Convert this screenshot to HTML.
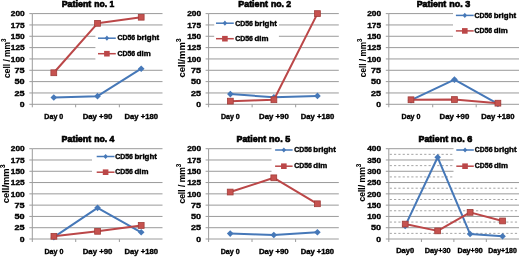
<!DOCTYPE html>
<html><head><meta charset="utf-8"><style>
html,body{margin:0;padding:0;background:#fff;width:520px;height:257px;overflow:hidden}
svg{display:block;filter:blur(0.5px)}
text{font-family:"Liberation Sans",sans-serif;font-weight:bold;fill:#000;stroke:#000;stroke-width:0.35px}
</style></head><body>
<svg width="520" height="257" viewBox="0 0 520 257">
<rect width="520" height="257" fill="#fff"/>
<line x1="32.30" y1="92.96" x2="162.50" y2="92.96" stroke="#9a9a9a" stroke-width="1" />
<line x1="32.30" y1="81.62" x2="162.50" y2="81.62" stroke="#9a9a9a" stroke-width="1" />
<line x1="32.30" y1="70.29" x2="162.50" y2="70.29" stroke="#9a9a9a" stroke-width="1" />
<line x1="32.30" y1="58.95" x2="162.50" y2="58.95" stroke="#9a9a9a" stroke-width="1" />
<line x1="32.30" y1="47.61" x2="162.50" y2="47.61" stroke="#9a9a9a" stroke-width="1" />
<line x1="32.30" y1="36.27" x2="162.50" y2="36.27" stroke="#9a9a9a" stroke-width="1" />
<line x1="32.30" y1="24.94" x2="162.50" y2="24.94" stroke="#9a9a9a" stroke-width="1" />
<line x1="32.30" y1="13.60" x2="162.50" y2="13.60" stroke="#9a9a9a" stroke-width="1" />
<rect x="95.4" y="30" width="74.6" height="34" fill="#fff"/>
<line x1="32.30" y1="13.60" x2="32.30" y2="107.30" stroke="#9c9c9c" stroke-width="1" />
<line x1="29.30" y1="104.30" x2="162.50" y2="104.30" stroke="#9c9c9c" stroke-width="1" />
<line x1="29.30" y1="92.96" x2="32.30" y2="92.96" stroke="#9c9c9c" stroke-width="1" />
<line x1="29.30" y1="81.62" x2="32.30" y2="81.62" stroke="#9c9c9c" stroke-width="1" />
<line x1="29.30" y1="70.29" x2="32.30" y2="70.29" stroke="#9c9c9c" stroke-width="1" />
<line x1="29.30" y1="58.95" x2="32.30" y2="58.95" stroke="#9c9c9c" stroke-width="1" />
<line x1="29.30" y1="47.61" x2="32.30" y2="47.61" stroke="#9c9c9c" stroke-width="1" />
<line x1="29.30" y1="36.27" x2="32.30" y2="36.27" stroke="#9c9c9c" stroke-width="1" />
<line x1="29.30" y1="24.94" x2="32.30" y2="24.94" stroke="#9c9c9c" stroke-width="1" />
<line x1="29.30" y1="13.60" x2="32.30" y2="13.60" stroke="#9c9c9c" stroke-width="1" />
<line x1="75.65" y1="104.30" x2="75.65" y2="107.30" stroke="#9c9c9c" stroke-width="1" />
<line x1="119.35" y1="104.30" x2="119.35" y2="107.30" stroke="#9c9c9c" stroke-width="1" />
<text x="24.65" y="107.05" font-size="7.5" text-anchor="end" textLength="4.80" lengthAdjust="spacingAndGlyphs" >0</text>
<text x="24.65" y="95.71" font-size="7.5" text-anchor="end" textLength="10.10" lengthAdjust="spacingAndGlyphs" >25</text>
<text x="24.65" y="84.38" font-size="7.5" text-anchor="end" textLength="10.10" lengthAdjust="spacingAndGlyphs" >50</text>
<text x="24.65" y="73.04" font-size="7.5" text-anchor="end" textLength="10.10" lengthAdjust="spacingAndGlyphs" >75</text>
<text x="24.65" y="61.70" font-size="7.5" text-anchor="end" textLength="13.90" lengthAdjust="spacingAndGlyphs" >100</text>
<text x="24.65" y="50.36" font-size="7.5" text-anchor="end" textLength="13.90" lengthAdjust="spacingAndGlyphs" >125</text>
<text x="24.65" y="39.02" font-size="7.5" text-anchor="end" textLength="13.90" lengthAdjust="spacingAndGlyphs" >150</text>
<text x="24.65" y="27.69" font-size="7.5" text-anchor="end" textLength="13.90" lengthAdjust="spacingAndGlyphs" >175</text>
<text x="24.65" y="16.35" font-size="7.5" text-anchor="end" textLength="13.90" lengthAdjust="spacingAndGlyphs" >200</text>
<text x="53.80" y="118.70" font-size="6.8" text-anchor="middle" textLength="18.90" lengthAdjust="spacingAndGlyphs" >Day 0</text>
<text x="97.50" y="118.70" font-size="6.8" text-anchor="middle" textLength="29.70" lengthAdjust="spacingAndGlyphs" >Day +90</text>
<text x="141.20" y="118.70" font-size="6.8" text-anchor="middle" textLength="33.40" lengthAdjust="spacingAndGlyphs" >Day +180</text>
<polyline points="53.80,97.50 97.50,96.14 141.20,68.70" fill="none" stroke="#4678b8" stroke-width="2" stroke-linejoin="round"/>
<path d="M50.50,97.50L53.80,94.20L57.10,97.50L53.80,100.80Z" fill="#4678b8"/>
<path d="M94.20,96.14L97.50,92.84L100.80,96.14L97.50,99.44Z" fill="#4678b8"/>
<path d="M137.90,68.70L141.20,65.40L144.50,68.70L141.20,72.00Z" fill="#4678b8"/>
<polyline points="53.80,72.78 97.50,23.35 141.20,17.23" fill="none" stroke="#bb4748" stroke-width="2" stroke-linejoin="round"/>
<rect x="50.90" y="69.88" width="5.80" height="5.80" fill="#c6524f" stroke="#a03c39" stroke-width="0.8"/>
<rect x="94.60" y="20.45" width="5.80" height="5.80" fill="#c6524f" stroke="#a03c39" stroke-width="0.8"/>
<rect x="138.30" y="14.33" width="5.80" height="5.80" fill="#c6524f" stroke="#a03c39" stroke-width="0.8"/>
<text x="61.70" y="7.20" font-size="9.4" text-anchor="start" textLength="29.60" lengthAdjust="spacingAndGlyphs" style="stroke-width:0.7px">Patient</text>
<text x="94.30" y="7.20" font-size="9.4" text-anchor="start" textLength="19.90" lengthAdjust="spacingAndGlyphs" style="stroke-width:0.7px">no. 1</text>
<line x1="98.00" y1="38.20" x2="115.80" y2="38.20" stroke="#4678b8" stroke-width="1.5" />
<path d="M104.70,38.20L106.90,35.60L109.10,38.20L106.90,40.80Z" fill="#4678b8"/>
<line x1="98.00" y1="53.70" x2="115.80" y2="53.70" stroke="#bb4748" stroke-width="1.5" />
<rect x="104.10" y="50.90" width="5.60" height="5.60" fill="#bb4748"/>
<text x="117.45" y="40.30" font-size="6.5" text-anchor="start" textLength="17.70" lengthAdjust="spacingAndGlyphs" >CD56</text>
<text x="136.65" y="40.30" font-size="7" text-anchor="start" textLength="22.50" lengthAdjust="spacingAndGlyphs" >bright</text>
<text x="117.45" y="55.80" font-size="6.5" text-anchor="start" textLength="17.70" lengthAdjust="spacingAndGlyphs" >CD56</text>
<text x="136.65" y="55.80" font-size="7" text-anchor="start" textLength="14.00" lengthAdjust="spacingAndGlyphs" >dim</text>
<text transform="translate(9.80,58.20) rotate(-90)" font-size="9.5" style="stroke-width:0.1px" text-anchor="middle" textLength="39.40" lengthAdjust="spacingAndGlyphs">cell / mm<tspan font-size="7" dy="-3.6">3</tspan></text>
<line x1="208.60" y1="92.96" x2="338.80" y2="92.96" stroke="#9a9a9a" stroke-width="1" />
<line x1="208.60" y1="81.62" x2="338.80" y2="81.62" stroke="#9a9a9a" stroke-width="1" />
<line x1="208.60" y1="70.29" x2="338.80" y2="70.29" stroke="#9a9a9a" stroke-width="1" />
<line x1="208.60" y1="58.95" x2="338.80" y2="58.95" stroke="#9a9a9a" stroke-width="1" />
<line x1="208.60" y1="47.61" x2="338.80" y2="47.61" stroke="#9a9a9a" stroke-width="1" />
<line x1="208.60" y1="36.27" x2="338.80" y2="36.27" stroke="#9a9a9a" stroke-width="1" />
<line x1="208.60" y1="24.94" x2="338.80" y2="24.94" stroke="#9a9a9a" stroke-width="1" />
<line x1="208.60" y1="13.60" x2="338.80" y2="13.60" stroke="#9a9a9a" stroke-width="1" />
<rect x="214.2" y="17" width="64.69999999999999" height="28" fill="#fff"/>
<line x1="208.60" y1="13.60" x2="208.60" y2="107.30" stroke="#9c9c9c" stroke-width="1" />
<line x1="205.60" y1="104.30" x2="338.80" y2="104.30" stroke="#9c9c9c" stroke-width="1" />
<line x1="205.60" y1="92.96" x2="208.60" y2="92.96" stroke="#9c9c9c" stroke-width="1" />
<line x1="205.60" y1="81.62" x2="208.60" y2="81.62" stroke="#9c9c9c" stroke-width="1" />
<line x1="205.60" y1="70.29" x2="208.60" y2="70.29" stroke="#9c9c9c" stroke-width="1" />
<line x1="205.60" y1="58.95" x2="208.60" y2="58.95" stroke="#9c9c9c" stroke-width="1" />
<line x1="205.60" y1="47.61" x2="208.60" y2="47.61" stroke="#9c9c9c" stroke-width="1" />
<line x1="205.60" y1="36.27" x2="208.60" y2="36.27" stroke="#9c9c9c" stroke-width="1" />
<line x1="205.60" y1="24.94" x2="208.60" y2="24.94" stroke="#9c9c9c" stroke-width="1" />
<line x1="205.60" y1="13.60" x2="208.60" y2="13.60" stroke="#9c9c9c" stroke-width="1" />
<line x1="252.12" y1="104.30" x2="252.12" y2="107.30" stroke="#9c9c9c" stroke-width="1" />
<line x1="295.67" y1="104.30" x2="295.67" y2="107.30" stroke="#9c9c9c" stroke-width="1" />
<text x="201.05" y="107.05" font-size="7.5" text-anchor="end" textLength="4.80" lengthAdjust="spacingAndGlyphs" >0</text>
<text x="201.05" y="95.71" font-size="7.5" text-anchor="end" textLength="10.10" lengthAdjust="spacingAndGlyphs" >25</text>
<text x="201.05" y="84.38" font-size="7.5" text-anchor="end" textLength="10.10" lengthAdjust="spacingAndGlyphs" >50</text>
<text x="201.05" y="73.04" font-size="7.5" text-anchor="end" textLength="10.10" lengthAdjust="spacingAndGlyphs" >75</text>
<text x="201.05" y="61.70" font-size="7.5" text-anchor="end" textLength="13.90" lengthAdjust="spacingAndGlyphs" >100</text>
<text x="201.05" y="50.36" font-size="7.5" text-anchor="end" textLength="13.90" lengthAdjust="spacingAndGlyphs" >125</text>
<text x="201.05" y="39.02" font-size="7.5" text-anchor="end" textLength="13.90" lengthAdjust="spacingAndGlyphs" >150</text>
<text x="201.05" y="27.69" font-size="7.5" text-anchor="end" textLength="13.90" lengthAdjust="spacingAndGlyphs" >175</text>
<text x="201.05" y="16.35" font-size="7.5" text-anchor="end" textLength="13.90" lengthAdjust="spacingAndGlyphs" >200</text>
<text x="230.35" y="118.70" font-size="6.8" text-anchor="middle" textLength="18.90" lengthAdjust="spacingAndGlyphs" >Day 0</text>
<text x="273.90" y="118.70" font-size="6.8" text-anchor="middle" textLength="29.70" lengthAdjust="spacingAndGlyphs" >Day +90</text>
<text x="317.45" y="118.70" font-size="6.8" text-anchor="middle" textLength="33.40" lengthAdjust="spacingAndGlyphs" >Day +180</text>
<polyline points="230.35,94.10 273.90,97.27 317.45,95.91" fill="none" stroke="#4678b8" stroke-width="2" stroke-linejoin="round"/>
<path d="M227.05,94.10L230.35,90.80L233.65,94.10L230.35,97.40Z" fill="#4678b8"/>
<path d="M270.60,97.27L273.90,93.97L277.20,97.27L273.90,100.57Z" fill="#4678b8"/>
<path d="M314.15,95.91L317.45,92.61L320.75,95.91L317.45,99.21Z" fill="#4678b8"/>
<polyline points="230.35,101.13 273.90,99.77 317.45,13.60" fill="none" stroke="#bb4748" stroke-width="2" stroke-linejoin="round"/>
<rect x="227.45" y="98.23" width="5.80" height="5.80" fill="#c6524f" stroke="#a03c39" stroke-width="0.8"/>
<rect x="271.00" y="96.86" width="5.80" height="5.80" fill="#c6524f" stroke="#a03c39" stroke-width="0.8"/>
<rect x="314.55" y="10.70" width="5.80" height="5.80" fill="#c6524f" stroke="#a03c39" stroke-width="0.8"/>
<text x="238.30" y="7.20" font-size="9.4" text-anchor="start" textLength="29.60" lengthAdjust="spacingAndGlyphs" style="stroke-width:0.7px">Patient</text>
<text x="270.90" y="7.20" font-size="9.4" text-anchor="start" textLength="20.30" lengthAdjust="spacingAndGlyphs" style="stroke-width:0.7px">no. 2</text>
<line x1="216.00" y1="23.20" x2="233.80" y2="23.20" stroke="#4678b8" stroke-width="1.5" />
<path d="M222.70,23.20L224.90,20.60L227.10,23.20L224.90,25.80Z" fill="#4678b8"/>
<line x1="216.00" y1="38.70" x2="233.80" y2="38.70" stroke="#bb4748" stroke-width="1.5" />
<rect x="222.10" y="35.90" width="5.60" height="5.60" fill="#bb4748"/>
<text x="235.25" y="25.70" font-size="6.5" text-anchor="start" textLength="17.70" lengthAdjust="spacingAndGlyphs" >CD56</text>
<text x="254.45" y="25.70" font-size="7" text-anchor="start" textLength="22.50" lengthAdjust="spacingAndGlyphs" >bright</text>
<text x="235.25" y="41.20" font-size="6.5" text-anchor="start" textLength="17.70" lengthAdjust="spacingAndGlyphs" >CD56</text>
<text x="254.45" y="41.20" font-size="7" text-anchor="start" textLength="14.00" lengthAdjust="spacingAndGlyphs" >dim</text>
<text transform="translate(185.00,57.85) rotate(-90)" font-size="9.5" style="stroke-width:0.1px" text-anchor="middle" textLength="39.10" lengthAdjust="spacingAndGlyphs">cell/mm<tspan font-size="7" dy="-3.6">3</tspan></text>
<line x1="388.80" y1="92.96" x2="519.00" y2="92.96" stroke="#9a9a9a" stroke-width="1" />
<line x1="388.80" y1="81.62" x2="519.00" y2="81.62" stroke="#9a9a9a" stroke-width="1" />
<line x1="388.80" y1="70.29" x2="519.00" y2="70.29" stroke="#9a9a9a" stroke-width="1" />
<line x1="388.80" y1="58.95" x2="519.00" y2="58.95" stroke="#9a9a9a" stroke-width="1" />
<line x1="388.80" y1="47.61" x2="519.00" y2="47.61" stroke="#9a9a9a" stroke-width="1" />
<line x1="388.80" y1="36.27" x2="519.00" y2="36.27" stroke="#9a9a9a" stroke-width="1" />
<line x1="388.80" y1="24.94" x2="519.00" y2="24.94" stroke="#9a9a9a" stroke-width="1" />
<line x1="388.80" y1="13.60" x2="519.00" y2="13.60" stroke="#9a9a9a" stroke-width="1" />
<rect x="453.0" y="8" width="67.0" height="34" fill="#fff"/>
<line x1="388.80" y1="13.60" x2="388.80" y2="107.30" stroke="#9c9c9c" stroke-width="1" />
<line x1="385.80" y1="104.30" x2="519.00" y2="104.30" stroke="#9c9c9c" stroke-width="1" />
<line x1="385.80" y1="92.96" x2="388.80" y2="92.96" stroke="#9c9c9c" stroke-width="1" />
<line x1="385.80" y1="81.62" x2="388.80" y2="81.62" stroke="#9c9c9c" stroke-width="1" />
<line x1="385.80" y1="70.29" x2="388.80" y2="70.29" stroke="#9c9c9c" stroke-width="1" />
<line x1="385.80" y1="58.95" x2="388.80" y2="58.95" stroke="#9c9c9c" stroke-width="1" />
<line x1="385.80" y1="47.61" x2="388.80" y2="47.61" stroke="#9c9c9c" stroke-width="1" />
<line x1="385.80" y1="36.27" x2="388.80" y2="36.27" stroke="#9c9c9c" stroke-width="1" />
<line x1="385.80" y1="24.94" x2="388.80" y2="24.94" stroke="#9c9c9c" stroke-width="1" />
<line x1="385.80" y1="13.60" x2="388.80" y2="13.60" stroke="#9c9c9c" stroke-width="1" />
<line x1="432.73" y1="104.30" x2="432.73" y2="107.30" stroke="#9c9c9c" stroke-width="1" />
<line x1="476.18" y1="104.30" x2="476.18" y2="107.30" stroke="#9c9c9c" stroke-width="1" />
<text x="381.05" y="107.05" font-size="7.5" text-anchor="end" textLength="4.80" lengthAdjust="spacingAndGlyphs" >0</text>
<text x="381.05" y="95.71" font-size="7.5" text-anchor="end" textLength="10.10" lengthAdjust="spacingAndGlyphs" >25</text>
<text x="381.05" y="84.38" font-size="7.5" text-anchor="end" textLength="10.10" lengthAdjust="spacingAndGlyphs" >50</text>
<text x="381.05" y="73.04" font-size="7.5" text-anchor="end" textLength="10.10" lengthAdjust="spacingAndGlyphs" >75</text>
<text x="381.05" y="61.70" font-size="7.5" text-anchor="end" textLength="13.90" lengthAdjust="spacingAndGlyphs" >100</text>
<text x="381.05" y="50.36" font-size="7.5" text-anchor="end" textLength="13.90" lengthAdjust="spacingAndGlyphs" >125</text>
<text x="381.05" y="39.02" font-size="7.5" text-anchor="end" textLength="13.90" lengthAdjust="spacingAndGlyphs" >150</text>
<text x="381.05" y="27.69" font-size="7.5" text-anchor="end" textLength="13.90" lengthAdjust="spacingAndGlyphs" >175</text>
<text x="381.05" y="16.35" font-size="7.5" text-anchor="end" textLength="13.90" lengthAdjust="spacingAndGlyphs" >200</text>
<text x="411.00" y="118.70" font-size="6.8" text-anchor="middle" textLength="18.90" lengthAdjust="spacingAndGlyphs" >Day 0</text>
<text x="454.45" y="118.70" font-size="6.8" text-anchor="middle" textLength="29.70" lengthAdjust="spacingAndGlyphs" >Day +90</text>
<text x="497.90" y="118.70" font-size="6.8" text-anchor="middle" textLength="33.40" lengthAdjust="spacingAndGlyphs" >Day +180</text>
<polyline points="411.00,100.22 454.45,79.58 497.90,103.85" fill="none" stroke="#4678b8" stroke-width="2" stroke-linejoin="round"/>
<path d="M407.70,100.22L411.00,96.92L414.30,100.22L411.00,103.52Z" fill="#4678b8"/>
<path d="M451.15,79.58L454.45,76.28L457.75,79.58L454.45,82.88Z" fill="#4678b8"/>
<path d="M494.60,103.85L497.90,100.55L501.20,103.85L497.90,107.15Z" fill="#4678b8"/>
<polyline points="411.00,99.77 454.45,99.54 497.90,103.17" fill="none" stroke="#bb4748" stroke-width="2" stroke-linejoin="round"/>
<rect x="408.10" y="96.86" width="5.80" height="5.80" fill="#c6524f" stroke="#a03c39" stroke-width="0.8"/>
<rect x="451.55" y="96.64" width="5.80" height="5.80" fill="#c6524f" stroke="#a03c39" stroke-width="0.8"/>
<rect x="495.00" y="100.27" width="5.80" height="5.80" fill="#c6524f" stroke="#a03c39" stroke-width="0.8"/>
<text x="416.70" y="7.10" font-size="9.4" text-anchor="start" textLength="29.60" lengthAdjust="spacingAndGlyphs" style="stroke-width:0.7px">Patient</text>
<text x="449.30" y="7.10" font-size="9.4" text-anchor="start" textLength="21.00" lengthAdjust="spacingAndGlyphs" style="stroke-width:0.7px">no. 3</text>
<line x1="455.90" y1="15.40" x2="473.70" y2="15.40" stroke="#4678b8" stroke-width="1.5" />
<path d="M462.60,15.40L464.80,12.80L467.00,15.40L464.80,18.00Z" fill="#4678b8"/>
<line x1="455.90" y1="30.90" x2="473.70" y2="30.90" stroke="#bb4748" stroke-width="1.5" />
<rect x="462.00" y="28.10" width="5.60" height="5.60" fill="#bb4748"/>
<text x="474.45" y="17.50" font-size="6.5" text-anchor="start" textLength="17.70" lengthAdjust="spacingAndGlyphs" >CD56</text>
<text x="493.65" y="17.50" font-size="7" text-anchor="start" textLength="22.50" lengthAdjust="spacingAndGlyphs" >bright</text>
<text x="474.45" y="33.00" font-size="6.5" text-anchor="start" textLength="17.70" lengthAdjust="spacingAndGlyphs" >CD56</text>
<text x="493.65" y="33.00" font-size="7" text-anchor="start" textLength="14.00" lengthAdjust="spacingAndGlyphs" >dim</text>
<text transform="translate(366.00,57.85) rotate(-90)" font-size="9.5" style="stroke-width:0.1px" text-anchor="middle" textLength="38.70" lengthAdjust="spacingAndGlyphs">cell / mm<tspan font-size="7" dy="-3.6">3</tspan></text>
<line x1="32.30" y1="227.71" x2="162.50" y2="227.71" stroke="#9a9a9a" stroke-width="1" />
<line x1="32.30" y1="216.43" x2="162.50" y2="216.43" stroke="#9a9a9a" stroke-width="1" />
<line x1="32.30" y1="205.14" x2="162.50" y2="205.14" stroke="#9a9a9a" stroke-width="1" />
<line x1="32.30" y1="193.85" x2="162.50" y2="193.85" stroke="#9a9a9a" stroke-width="1" />
<line x1="32.30" y1="182.56" x2="162.50" y2="182.56" stroke="#9a9a9a" stroke-width="1" />
<line x1="32.30" y1="171.27" x2="162.50" y2="171.27" stroke="#9a9a9a" stroke-width="1" />
<line x1="32.30" y1="159.99" x2="162.50" y2="159.99" stroke="#9a9a9a" stroke-width="1" />
<line x1="32.30" y1="148.70" x2="162.50" y2="148.70" stroke="#9a9a9a" stroke-width="1" />
<rect x="92.0" y="151" width="78.0" height="28" fill="#fff"/>
<line x1="32.30" y1="148.70" x2="32.30" y2="242.00" stroke="#9c9c9c" stroke-width="1" />
<line x1="29.30" y1="239.00" x2="162.50" y2="239.00" stroke="#9c9c9c" stroke-width="1" />
<line x1="29.30" y1="227.71" x2="32.30" y2="227.71" stroke="#9c9c9c" stroke-width="1" />
<line x1="29.30" y1="216.43" x2="32.30" y2="216.43" stroke="#9c9c9c" stroke-width="1" />
<line x1="29.30" y1="205.14" x2="32.30" y2="205.14" stroke="#9c9c9c" stroke-width="1" />
<line x1="29.30" y1="193.85" x2="32.30" y2="193.85" stroke="#9c9c9c" stroke-width="1" />
<line x1="29.30" y1="182.56" x2="32.30" y2="182.56" stroke="#9c9c9c" stroke-width="1" />
<line x1="29.30" y1="171.27" x2="32.30" y2="171.27" stroke="#9c9c9c" stroke-width="1" />
<line x1="29.30" y1="159.99" x2="32.30" y2="159.99" stroke="#9c9c9c" stroke-width="1" />
<line x1="29.30" y1="148.70" x2="32.30" y2="148.70" stroke="#9c9c9c" stroke-width="1" />
<line x1="75.72" y1="239.00" x2="75.72" y2="242.00" stroke="#9c9c9c" stroke-width="1" />
<line x1="119.38" y1="239.00" x2="119.38" y2="242.00" stroke="#9c9c9c" stroke-width="1" />
<text x="24.65" y="241.75" font-size="7.5" text-anchor="end" textLength="4.80" lengthAdjust="spacingAndGlyphs" >0</text>
<text x="24.65" y="230.46" font-size="7.5" text-anchor="end" textLength="10.10" lengthAdjust="spacingAndGlyphs" >25</text>
<text x="24.65" y="219.18" font-size="7.5" text-anchor="end" textLength="10.10" lengthAdjust="spacingAndGlyphs" >50</text>
<text x="24.65" y="207.89" font-size="7.5" text-anchor="end" textLength="10.10" lengthAdjust="spacingAndGlyphs" >75</text>
<text x="24.65" y="196.60" font-size="7.5" text-anchor="end" textLength="13.90" lengthAdjust="spacingAndGlyphs" >100</text>
<text x="24.65" y="185.31" font-size="7.5" text-anchor="end" textLength="13.90" lengthAdjust="spacingAndGlyphs" >125</text>
<text x="24.65" y="174.02" font-size="7.5" text-anchor="end" textLength="13.90" lengthAdjust="spacingAndGlyphs" >150</text>
<text x="24.65" y="162.74" font-size="7.5" text-anchor="end" textLength="13.90" lengthAdjust="spacingAndGlyphs" >175</text>
<text x="24.65" y="151.45" font-size="7.5" text-anchor="end" textLength="13.90" lengthAdjust="spacingAndGlyphs" >200</text>
<text x="53.90" y="254.40" font-size="6.8" text-anchor="middle" textLength="18.90" lengthAdjust="spacingAndGlyphs" >Day 0</text>
<text x="97.55" y="254.40" font-size="6.8" text-anchor="middle" textLength="29.70" lengthAdjust="spacingAndGlyphs" >Day +90</text>
<text x="141.20" y="254.40" font-size="6.8" text-anchor="middle" textLength="33.40" lengthAdjust="spacingAndGlyphs" >Day +180</text>
<polyline points="53.90,237.19 97.55,207.85 141.20,232.32" fill="none" stroke="#4678b8" stroke-width="2" stroke-linejoin="round"/>
<path d="M50.60,237.19L53.90,233.89L57.20,237.19L53.90,240.49Z" fill="#4678b8"/>
<path d="M94.25,207.85L97.55,204.55L100.85,207.85L97.55,211.15Z" fill="#4678b8"/>
<path d="M137.90,232.32L141.20,229.02L144.50,232.32L141.20,235.62Z" fill="#4678b8"/>
<polyline points="53.90,236.29 97.55,231.32 141.20,225.45" fill="none" stroke="#bb4748" stroke-width="2" stroke-linejoin="round"/>
<rect x="51.00" y="233.39" width="5.80" height="5.80" fill="#c6524f" stroke="#a03c39" stroke-width="0.8"/>
<rect x="94.65" y="228.42" width="5.80" height="5.80" fill="#c6524f" stroke="#a03c39" stroke-width="0.8"/>
<rect x="138.30" y="222.55" width="5.80" height="5.80" fill="#c6524f" stroke="#a03c39" stroke-width="0.8"/>
<text x="61.60" y="141.90" font-size="9.4" text-anchor="start" textLength="29.60" lengthAdjust="spacingAndGlyphs" style="stroke-width:0.7px">Patient</text>
<text x="94.20" y="141.90" font-size="9.4" text-anchor="start" textLength="20.20" lengthAdjust="spacingAndGlyphs" style="stroke-width:0.7px">no. 4</text>
<line x1="96.70" y1="156.50" x2="114.50" y2="156.50" stroke="#4678b8" stroke-width="1.5" />
<path d="M103.40,156.50L105.60,153.90L107.80,156.50L105.60,159.10Z" fill="#4678b8"/>
<line x1="96.70" y1="172.20" x2="114.50" y2="172.20" stroke="#bb4748" stroke-width="1.5" />
<rect x="102.80" y="169.40" width="5.60" height="5.60" fill="#bb4748"/>
<text x="115.25" y="158.60" font-size="6.5" text-anchor="start" textLength="17.70" lengthAdjust="spacingAndGlyphs" >CD56</text>
<text x="134.45" y="158.60" font-size="7" text-anchor="start" textLength="22.50" lengthAdjust="spacingAndGlyphs" >bright</text>
<text x="115.25" y="174.30" font-size="6.5" text-anchor="start" textLength="17.70" lengthAdjust="spacingAndGlyphs" >CD56</text>
<text x="134.45" y="174.30" font-size="7" text-anchor="start" textLength="14.00" lengthAdjust="spacingAndGlyphs" >dim</text>
<text transform="translate(8.80,183.85) rotate(-90)" font-size="9.5" style="stroke-width:0.1px" text-anchor="middle" textLength="38.70" lengthAdjust="spacingAndGlyphs">cell/mm<tspan font-size="7" dy="-3.6">3</tspan></text>
<line x1="208.60" y1="227.71" x2="338.80" y2="227.71" stroke="#9a9a9a" stroke-width="1" />
<line x1="208.60" y1="216.43" x2="338.80" y2="216.43" stroke="#9a9a9a" stroke-width="1" />
<line x1="208.60" y1="205.14" x2="338.80" y2="205.14" stroke="#9a9a9a" stroke-width="1" />
<line x1="208.60" y1="193.85" x2="338.80" y2="193.85" stroke="#9a9a9a" stroke-width="1" />
<line x1="208.60" y1="182.56" x2="338.80" y2="182.56" stroke="#9a9a9a" stroke-width="1" />
<line x1="208.60" y1="171.27" x2="338.80" y2="171.27" stroke="#9a9a9a" stroke-width="1" />
<line x1="208.60" y1="159.99" x2="338.80" y2="159.99" stroke="#9a9a9a" stroke-width="1" />
<line x1="208.60" y1="148.70" x2="338.80" y2="148.70" stroke="#9a9a9a" stroke-width="1" />
<rect x="271.5" y="143" width="74.5" height="34" fill="#fff"/>
<line x1="208.60" y1="148.70" x2="208.60" y2="242.00" stroke="#9c9c9c" stroke-width="1" />
<line x1="205.60" y1="239.00" x2="338.80" y2="239.00" stroke="#9c9c9c" stroke-width="1" />
<line x1="205.60" y1="227.71" x2="208.60" y2="227.71" stroke="#9c9c9c" stroke-width="1" />
<line x1="205.60" y1="216.43" x2="208.60" y2="216.43" stroke="#9c9c9c" stroke-width="1" />
<line x1="205.60" y1="205.14" x2="208.60" y2="205.14" stroke="#9c9c9c" stroke-width="1" />
<line x1="205.60" y1="193.85" x2="208.60" y2="193.85" stroke="#9c9c9c" stroke-width="1" />
<line x1="205.60" y1="182.56" x2="208.60" y2="182.56" stroke="#9c9c9c" stroke-width="1" />
<line x1="205.60" y1="171.27" x2="208.60" y2="171.27" stroke="#9c9c9c" stroke-width="1" />
<line x1="205.60" y1="159.99" x2="208.60" y2="159.99" stroke="#9c9c9c" stroke-width="1" />
<line x1="205.60" y1="148.70" x2="208.60" y2="148.70" stroke="#9c9c9c" stroke-width="1" />
<line x1="252.00" y1="239.00" x2="252.00" y2="242.00" stroke="#9c9c9c" stroke-width="1" />
<line x1="295.60" y1="239.00" x2="295.60" y2="242.00" stroke="#9c9c9c" stroke-width="1" />
<text x="201.05" y="241.75" font-size="7.5" text-anchor="end" textLength="4.80" lengthAdjust="spacingAndGlyphs" >0</text>
<text x="201.05" y="230.46" font-size="7.5" text-anchor="end" textLength="10.10" lengthAdjust="spacingAndGlyphs" >25</text>
<text x="201.05" y="219.18" font-size="7.5" text-anchor="end" textLength="10.10" lengthAdjust="spacingAndGlyphs" >50</text>
<text x="201.05" y="207.89" font-size="7.5" text-anchor="end" textLength="10.10" lengthAdjust="spacingAndGlyphs" >75</text>
<text x="201.05" y="196.60" font-size="7.5" text-anchor="end" textLength="13.90" lengthAdjust="spacingAndGlyphs" >100</text>
<text x="201.05" y="185.31" font-size="7.5" text-anchor="end" textLength="13.90" lengthAdjust="spacingAndGlyphs" >125</text>
<text x="201.05" y="174.02" font-size="7.5" text-anchor="end" textLength="13.90" lengthAdjust="spacingAndGlyphs" >150</text>
<text x="201.05" y="162.74" font-size="7.5" text-anchor="end" textLength="13.90" lengthAdjust="spacingAndGlyphs" >175</text>
<text x="201.05" y="151.45" font-size="7.5" text-anchor="end" textLength="13.90" lengthAdjust="spacingAndGlyphs" >200</text>
<text x="230.20" y="254.40" font-size="6.8" text-anchor="middle" textLength="18.90" lengthAdjust="spacingAndGlyphs" >Day 0</text>
<text x="273.80" y="254.40" font-size="6.8" text-anchor="middle" textLength="29.70" lengthAdjust="spacingAndGlyphs" >Day +90</text>
<text x="317.40" y="254.40" font-size="6.8" text-anchor="middle" textLength="33.40" lengthAdjust="spacingAndGlyphs" >Day +180</text>
<polyline points="230.20,233.58 273.80,234.94 317.40,232.23" fill="none" stroke="#4678b8" stroke-width="2" stroke-linejoin="round"/>
<path d="M226.90,233.58L230.20,230.28L233.50,233.58L230.20,236.88Z" fill="#4678b8"/>
<path d="M270.50,234.94L273.80,231.64L277.10,234.94L273.80,238.24Z" fill="#4678b8"/>
<path d="M314.10,232.23L317.40,228.93L320.70,232.23L317.40,235.53Z" fill="#4678b8"/>
<polyline points="230.20,192.04 273.80,177.82 317.40,203.78" fill="none" stroke="#bb4748" stroke-width="2" stroke-linejoin="round"/>
<rect x="227.30" y="189.14" width="5.80" height="5.80" fill="#c6524f" stroke="#a03c39" stroke-width="0.8"/>
<rect x="270.90" y="174.92" width="5.80" height="5.80" fill="#c6524f" stroke="#a03c39" stroke-width="0.8"/>
<rect x="314.50" y="200.88" width="5.80" height="5.80" fill="#c6524f" stroke="#a03c39" stroke-width="0.8"/>
<text x="236.50" y="141.90" font-size="9.4" text-anchor="start" textLength="29.60" lengthAdjust="spacingAndGlyphs" style="stroke-width:0.7px">Patient</text>
<text x="269.10" y="141.90" font-size="9.4" text-anchor="start" textLength="21.10" lengthAdjust="spacingAndGlyphs" style="stroke-width:0.7px">no. 5</text>
<line x1="275.10" y1="150.00" x2="292.60" y2="150.00" stroke="#4678b8" stroke-width="1.5" />
<path d="M281.65,150.00L283.85,147.40L286.05,150.00L283.85,152.60Z" fill="#4678b8"/>
<line x1="275.10" y1="166.20" x2="292.60" y2="166.20" stroke="#bb4748" stroke-width="1.5" />
<rect x="281.05" y="163.40" width="5.60" height="5.60" fill="#bb4748"/>
<text x="294.15" y="152.10" font-size="6.5" text-anchor="start" textLength="17.70" lengthAdjust="spacingAndGlyphs" >CD56</text>
<text x="313.35" y="152.10" font-size="7" text-anchor="start" textLength="22.50" lengthAdjust="spacingAndGlyphs" >bright</text>
<text x="294.15" y="168.30" font-size="6.5" text-anchor="start" textLength="17.70" lengthAdjust="spacingAndGlyphs" >CD56</text>
<text x="313.35" y="168.30" font-size="7" text-anchor="start" textLength="14.00" lengthAdjust="spacingAndGlyphs" >dim</text>
<text transform="translate(185.00,183.65) rotate(-90)" font-size="9.5" style="stroke-width:0.1px" text-anchor="middle" textLength="39.90" lengthAdjust="spacingAndGlyphs">cell / mm<tspan font-size="7" dy="-3.6">3</tspan></text>
<line x1="388.80" y1="233.36" x2="519.00" y2="233.36" stroke="#a4a4a4" stroke-width="1" stroke-dasharray="2.2,2.116" stroke-dashoffset="3.416"/>
<line x1="388.80" y1="222.07" x2="519.00" y2="222.07" stroke="#a4a4a4" stroke-width="1" stroke-dasharray="2.2,2.116" stroke-dashoffset="3.416"/>
<line x1="388.80" y1="210.78" x2="519.00" y2="210.78" stroke="#a4a4a4" stroke-width="1" stroke-dasharray="2.2,2.116" stroke-dashoffset="3.416"/>
<line x1="388.80" y1="199.49" x2="519.00" y2="199.49" stroke="#a4a4a4" stroke-width="1" stroke-dasharray="2.2,2.116" stroke-dashoffset="3.416"/>
<line x1="388.80" y1="188.21" x2="519.00" y2="188.21" stroke="#a4a4a4" stroke-width="1" stroke-dasharray="2.2,2.116" stroke-dashoffset="3.416"/>
<line x1="388.80" y1="176.92" x2="519.00" y2="176.92" stroke="#a4a4a4" stroke-width="1" stroke-dasharray="2.2,2.116" stroke-dashoffset="3.416"/>
<line x1="388.80" y1="165.63" x2="519.00" y2="165.63" stroke="#a4a4a4" stroke-width="1" stroke-dasharray="2.2,2.116" stroke-dashoffset="3.416"/>
<line x1="388.80" y1="154.34" x2="519.00" y2="154.34" stroke="#a4a4a4" stroke-width="1" stroke-dasharray="2.2,2.116" stroke-dashoffset="3.416"/>
<line x1="388.80" y1="227.71" x2="519.00" y2="227.71" stroke="#9a9a9a" stroke-width="1" />
<line x1="388.80" y1="216.43" x2="519.00" y2="216.43" stroke="#9a9a9a" stroke-width="1" />
<line x1="388.80" y1="205.14" x2="519.00" y2="205.14" stroke="#9a9a9a" stroke-width="1" />
<line x1="388.80" y1="193.85" x2="519.00" y2="193.85" stroke="#9a9a9a" stroke-width="1" />
<line x1="388.80" y1="182.56" x2="519.00" y2="182.56" stroke="#9a9a9a" stroke-width="1" />
<line x1="388.80" y1="171.27" x2="519.00" y2="171.27" stroke="#9a9a9a" stroke-width="1" />
<line x1="388.80" y1="159.99" x2="519.00" y2="159.99" stroke="#9a9a9a" stroke-width="1" />
<line x1="388.80" y1="148.70" x2="519.00" y2="148.70" stroke="#9a9a9a" stroke-width="1" />
<rect x="453.5" y="143" width="66.5" height="36" fill="#fff"/>
<line x1="388.80" y1="148.70" x2="388.80" y2="242.00" stroke="#9c9c9c" stroke-width="1" />
<line x1="385.80" y1="239.00" x2="519.00" y2="239.00" stroke="#9c9c9c" stroke-width="1" />
<line x1="385.80" y1="227.71" x2="388.80" y2="227.71" stroke="#9c9c9c" stroke-width="1" />
<line x1="385.80" y1="216.43" x2="388.80" y2="216.43" stroke="#9c9c9c" stroke-width="1" />
<line x1="385.80" y1="205.14" x2="388.80" y2="205.14" stroke="#9c9c9c" stroke-width="1" />
<line x1="385.80" y1="193.85" x2="388.80" y2="193.85" stroke="#9c9c9c" stroke-width="1" />
<line x1="385.80" y1="182.56" x2="388.80" y2="182.56" stroke="#9c9c9c" stroke-width="1" />
<line x1="385.80" y1="171.27" x2="388.80" y2="171.27" stroke="#9c9c9c" stroke-width="1" />
<line x1="385.80" y1="159.99" x2="388.80" y2="159.99" stroke="#9c9c9c" stroke-width="1" />
<line x1="385.80" y1="148.70" x2="388.80" y2="148.70" stroke="#9c9c9c" stroke-width="1" />
<line x1="421.43" y1="239.00" x2="421.43" y2="242.00" stroke="#9c9c9c" stroke-width="1" />
<line x1="453.88" y1="239.00" x2="453.88" y2="242.00" stroke="#9c9c9c" stroke-width="1" />
<line x1="486.32" y1="239.00" x2="486.32" y2="242.00" stroke="#9c9c9c" stroke-width="1" />
<text x="381.05" y="241.75" font-size="7.5" text-anchor="end" textLength="4.80" lengthAdjust="spacingAndGlyphs" >0</text>
<text x="381.05" y="230.46" font-size="7.5" text-anchor="end" textLength="10.10" lengthAdjust="spacingAndGlyphs" >50</text>
<text x="381.05" y="219.18" font-size="7.5" text-anchor="end" textLength="13.90" lengthAdjust="spacingAndGlyphs" >100</text>
<text x="381.05" y="207.89" font-size="7.5" text-anchor="end" textLength="13.90" lengthAdjust="spacingAndGlyphs" >150</text>
<text x="381.05" y="196.60" font-size="7.5" text-anchor="end" textLength="13.90" lengthAdjust="spacingAndGlyphs" >200</text>
<text x="381.05" y="185.31" font-size="7.5" text-anchor="end" textLength="13.90" lengthAdjust="spacingAndGlyphs" >250</text>
<text x="381.05" y="174.02" font-size="7.5" text-anchor="end" textLength="13.90" lengthAdjust="spacingAndGlyphs" >300</text>
<text x="381.05" y="162.74" font-size="7.5" text-anchor="end" textLength="13.90" lengthAdjust="spacingAndGlyphs" >350</text>
<text x="381.05" y="151.45" font-size="7.5" text-anchor="end" textLength="13.90" lengthAdjust="spacingAndGlyphs" >400</text>
<text x="405.20" y="253.00" font-size="6.8" text-anchor="middle" textLength="18.00" lengthAdjust="spacingAndGlyphs" >Day0</text>
<text x="437.65" y="253.00" font-size="6.8" text-anchor="middle" textLength="26.00" lengthAdjust="spacingAndGlyphs" >Day+30</text>
<text x="470.10" y="253.00" font-size="6.8" text-anchor="middle" textLength="25.20" lengthAdjust="spacingAndGlyphs" >Day+90</text>
<text x="502.55" y="253.00" font-size="6.8" text-anchor="middle" textLength="28.40" lengthAdjust="spacingAndGlyphs" >Day+180</text>
<polyline points="405.20,225.91 437.65,157.28 470.10,234.03 502.55,236.29" fill="none" stroke="#4678b8" stroke-width="2" stroke-linejoin="round"/>
<path d="M401.90,225.91L405.20,222.61L408.50,225.91L405.20,229.21Z" fill="#4678b8"/>
<path d="M434.35,157.28L437.65,153.98L440.95,157.28L437.65,160.58Z" fill="#4678b8"/>
<path d="M466.80,234.03L470.10,230.73L473.40,234.03L470.10,237.33Z" fill="#4678b8"/>
<path d="M499.25,236.29L502.55,232.99L505.85,236.29L502.55,239.59Z" fill="#4678b8"/>
<polyline points="405.20,224.10 437.65,230.87 470.10,212.36 502.55,220.94" fill="none" stroke="#bb4748" stroke-width="2" stroke-linejoin="round"/>
<rect x="402.30" y="221.20" width="5.80" height="5.80" fill="#c6524f" stroke="#a03c39" stroke-width="0.8"/>
<rect x="434.75" y="227.97" width="5.80" height="5.80" fill="#c6524f" stroke="#a03c39" stroke-width="0.8"/>
<rect x="467.20" y="209.46" width="5.80" height="5.80" fill="#c6524f" stroke="#a03c39" stroke-width="0.8"/>
<rect x="499.65" y="218.04" width="5.80" height="5.80" fill="#c6524f" stroke="#a03c39" stroke-width="0.8"/>
<text x="418.50" y="141.90" font-size="9.4" text-anchor="start" textLength="29.60" lengthAdjust="spacingAndGlyphs" style="stroke-width:0.7px">Patient</text>
<text x="451.10" y="141.90" font-size="9.4" text-anchor="start" textLength="21.20" lengthAdjust="spacingAndGlyphs" style="stroke-width:0.7px">no. 6</text>
<line x1="456.30" y1="150.00" x2="473.80" y2="150.00" stroke="#4678b8" stroke-width="1.5" />
<path d="M462.85,150.00L465.05,147.40L467.25,150.00L465.05,152.60Z" fill="#4678b8"/>
<line x1="456.30" y1="166.20" x2="473.80" y2="166.20" stroke="#bb4748" stroke-width="1.5" />
<rect x="462.25" y="163.40" width="5.60" height="5.60" fill="#bb4748"/>
<text x="474.85" y="152.10" font-size="6.5" text-anchor="start" textLength="17.70" lengthAdjust="spacingAndGlyphs" >CD56</text>
<text x="494.05" y="152.10" font-size="7" text-anchor="start" textLength="22.50" lengthAdjust="spacingAndGlyphs" >bright</text>
<text x="474.85" y="168.30" font-size="6.5" text-anchor="start" textLength="17.70" lengthAdjust="spacingAndGlyphs" >CD56</text>
<text x="494.05" y="168.30" font-size="7" text-anchor="start" textLength="14.00" lengthAdjust="spacingAndGlyphs" >dim</text>
<text transform="translate(364.70,182.65) rotate(-90)" font-size="9.5" style="stroke-width:0.1px" text-anchor="middle" textLength="37.90" lengthAdjust="spacingAndGlyphs">cell/ mm<tspan font-size="7" dy="-3.6">3</tspan></text>
</svg>
</body></html>
